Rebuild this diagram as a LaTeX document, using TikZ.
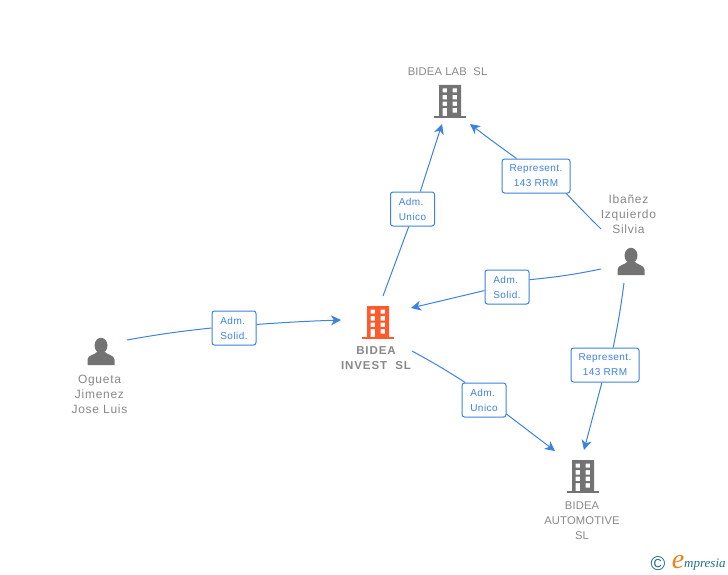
\documentclass[tikz,border=0pt]{standalone}
\usepackage{fontspec}
\setmainfont{Liberation Sans}
\newfontfamily\markfont{Liberation Serif}
\usepackage{tikz}
\usetikzlibrary{arrows.meta,positioning}
\definecolor{linkblue}{HTML}{3C82E0}
\definecolor{iconGray}{HTML}{737373}
\definecolor{nameGray}{HTML}{888888}
\definecolor{iconOrange}{HTML}{FF5A2B}
\definecolor{markTeal}{HTML}{1F6F86}
\definecolor{markOrange}{HTML}{F08010}
\newfontfamily\capsfont[LetterSpace=1.5]{Liberation Sans}
\newfontfamily\wordfont[LetterSpace=6]{Liberation Sans}
\newfontfamily\boldfont[LetterSpace=8]{Liberation Sans Bold}
\newfontfamily\rolefont[LetterSpace=4.5]{Liberation Sans}
\tikzset{
	link/.style={linkblue,line width=1pt},
	arrowlink/.style={link,-{Stealth[length=10pt,width=10pt,inset=3pt]}},
	rolebox/.style={draw=linkblue,line width=1pt,rounded corners=2.5pt,fill=white,text=linkblue,inner sep=0pt,minimum height=34pt,font=\rolefont\fontsize{10}{15}\selectfont},
	admbox/.style={rolebox,minimum width=44pt,align=left},
	repbox/.style={rolebox,minimum width=68pt,align=center},
	nametext/.style={text=nameGray,align=center,inner sep=0pt,font=\wordfont\fontsize{12}{15}\selectfont},
	capstext/.style={nametext,font=\capsfont\fontsize{11.2}{15}\selectfont},
	building/.pic={
		\fill [even odd rule] (-11,-16) rectangle (11,15)
			(-7.5,-12.5) rectangle (-3,-8.5) (2.5,-12.5) rectangle (7,-8.5)
			(-7.5,-6) rectangle (-3,-1.5) (2.5,-6) rectangle (7,-1.5)
			(-7.5,0.7) rectangle (-3,5) (2.5,0.7) rectangle (7,5)
			(-7.5,7) rectangle (-3,15) (2.5,7) rectangle (7,11.7);
		\fill (-16,15) rectangle (16,17);
	},
	person/.pic={
		\fill (0,-6) ellipse [x radius=6.5,y radius=7.7];
		\fill (-13.5,13.5) -- (-13.5,8) .. controls (-13.5,3.5) and (-6,3.5) .. (-3.5,0) -- (3.5,0) .. controls (6,3.5) and (13.5,3.5) .. (13.5,8) -- (13.5,13.5) -- cycle;
	}
}
\begin{document}
\begin{tikzpicture}[x=1pt,y=-1pt]

	\useasboundingbox (0,0) rectangle (728,575);

	\pic [iconGray] at (450,101) {building};
	\pic [iconOrange] at (378,322) {building};
	\pic [iconGray] at (583,476) {building};
	\pic [iconGray] at (101,351.5) {person};
	\pic [iconGray] at (631,261.5) {person};

	\node [capstext] (lab) at (447.5,71.5) {BIDEA LAB\ \ SL};
	\node [nametext,font=\boldfont\fontsize{11.5}{15}\selectfont] (invest) at (376,358.5) {BIDEA\\INVEST\ \ SL};
	\node [capstext] (automotive) at (582,521) {BIDEA\\AUTOMOTIVE\\SL};
	\node [nametext] (ogueta) at (99.5,394) {Ogueta\\Jimenez\\Jose Luis};
	\node [nametext] (ibanez) at (628.5,214) {Ibañez\\Izquierdo\\Silvia};

	\node [admbox] (solidA) at (234,328) {Adm.\\Solid.};
	\node [admbox] (unicoA) at (412.5,209) {Adm.\\Unico};
	\node [repbox] (repA) at (536,176) {Represent.\\143 RRM};
	\node [admbox] (solidB) at (507,287) {Adm.\\Solid.};
	\node [repbox] (repB) at (605,365) {Represent.\\143 RRM};
	\node [admbox] (unicoB) at (484,400) {Adm.\\Unico};

	\coordinate (oguetaOut) at (127,340);
	\coordinate (investIn) at (341,320);
	\coordinate (investUp) at (383,296);
	\coordinate (labLeft) at (442,124);
	\coordinate (ibanezUp) at (601,229);
	\coordinate (labRight) at (470,124);
	\coordinate (ibanezLeft) at (601,269);
	\coordinate (investRight) at (411,308);
	\coordinate (ibanezDown) at (624,283);
	\coordinate (autoTop) at (584,450);
	\coordinate (investDown) at (412,351);
	\coordinate (autoLeft) at (555,451);

	\draw [link] (oguetaOut) to [bend left=2] (solidA.180);
	\draw [arrowlink] (solidA.9) to [bend left=1] (investIn);
	\draw [link] (investUp) -- (unicoA.258);
	\draw [arrowlink] (unicoA.66) -- (labLeft);
	\draw [link] (ibanezUp) to [bend left=1] (repA.-30);
	\draw [arrowlink] (repA.138) to [bend left=1] (labRight);
	\draw [link] (ibanezLeft) to [bend left=3] (solidB.18);
	\draw [arrowlink] (solidB.189) -- (investRight);
	\draw [link] (ibanezDown) to [bend left=2] (repB.65);
	\draw [arrowlink] (repB.260) -- (autoTop);
	\draw [link] (investDown) to [bend left=2] (unicoB.137);
	\draw [arrowlink] (unicoB.-32) -- (autoLeft);

	\node [text=markTeal,inner sep=0pt,font=\fontsize{20}{20}\selectfont] (copyMark) at (658,563.5) {©};
	\node [text=markOrange,inner sep=0pt,font=\markfont\itshape\fontsize{28}{28}\selectfont] (eMark) at (678,562.5) {e};
	\node [text=markTeal,inner sep=0pt,anchor=west,font=\markfont\itshape\fontsize{13}{13}\selectfont] (wordMark) at (684,565) {mpresia};

\end{tikzpicture}
\end{document}
